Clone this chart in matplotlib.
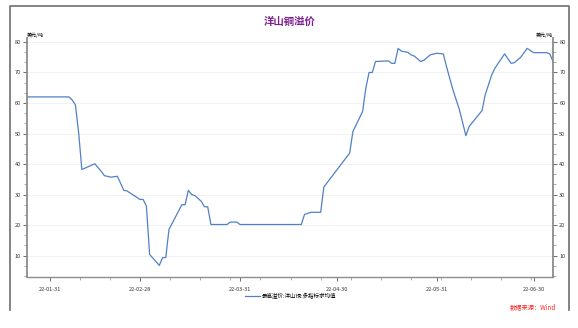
import numpy as np
import pandas as pd
import matplotlib
matplotlib.use('Agg')
import matplotlib.pyplot as plt
import matplotlib.dates as mdates
from matplotlib.ticker import MultipleLocator, AutoMinorLocator, FixedLocator
from matplotlib.lines import Line2D

plt.rcParams['font.family'] = ['Noto Sans CJK SC', 'DejaVu Sans']
plt.rcParams['axes.unicode_minus'] = False

# data (USD/t)
dates = ['2022-01-24', '2022-02-06', '2022-02-07', '2022-02-08', '2022-02-09', '2022-02-10',
         '2022-02-14', '2022-02-16', '2022-02-17', '2022-02-19', '2022-02-21', '2022-02-23',
         '2022-02-24', '2022-02-28', '2022-03-01', '2022-03-02', '2022-03-03', '2022-03-06',
         '2022-03-07', '2022-03-08', '2022-03-09', '2022-03-13', '2022-03-14', '2022-03-15',
         '2022-03-16', '2022-03-17', '2022-03-19', '2022-03-20', '2022-03-21', '2022-03-22',
         '2022-03-27', '2022-03-28', '2022-03-30', '2022-03-31', '2022-04-19', '2022-04-20',
         '2022-04-22', '2022-04-25', '2022-04-26', '2022-05-04', '2022-05-05', '2022-05-08',
         '2022-05-09', '2022-05-10', '2022-05-11', '2022-05-12', '2022-05-16', '2022-05-17',
         '2022-05-18', '2022-05-19', '2022-05-20', '2022-05-22', '2022-05-23', '2022-05-24',
         '2022-05-26', '2022-05-27', '2022-05-29', '2022-05-31', '2022-06-02', '2022-06-03',
         '2022-06-05', '2022-06-07', '2022-06-09', '2022-06-10', '2022-06-14', '2022-06-15',
         '2022-06-17', '2022-06-18', '2022-06-21', '2022-06-23', '2022-06-24', '2022-06-26',
         '2022-06-28', '2022-06-30', '2022-07-04', '2022-07-05', '2022-07-06']
premium = [62.0, 62.0, 61.0, 59.4, 50.3, 38.2,
           40.1, 37.6, 36.2, 35.7, 36.0, 31.4,
           31.2, 28.4, 28.4, 26.2, 10.4, 6.8,
           9.3, 9.4, 18.6, 26.7, 26.7, 31.4,
           30.0, 29.7, 27.8, 26.0, 26.0, 20.2,
           20.2, 21.0, 21.0, 20.2, 20.2, 23.5,
           24.2, 24.2, 32.5, 43.6, 50.7, 57.2,
           64.9, 70.0, 70.0, 73.6, 73.8, 73.0,
           73.0, 77.9, 77.0, 76.6, 75.8, 75.4,
           73.6, 74.0, 75.8, 76.3, 76.1, 71.9,
           64.3, 57.8, 49.3, 52.3, 57.5, 62.7,
           69.2, 71.4, 76.1, 73.0, 73.2, 75.0,
           77.9, 76.5, 76.5, 76.1, 73.6]
tick_dates = ['2022-01-31', '2022-02-28', '2022-03-31', '2022-04-30', '2022-05-31', '2022-06-30']
series_name = '最高溢价:洋山铜:多指标求均值'

x = pd.to_datetime(dates)
line_color = '#4f81c7'
axis_color = '#8c8c8c'

fig = plt.figure(figsize=(5.78, 3.28), dpi=100)
ax = fig.add_axes([27 / 578, 1 - 277 / 328, (553 - 27) / 578, (277 - 38) / 328])

ax.plot(x, premium, color=line_color, lw=0.9)
ax.set_xlim(x[0], x[-1])
ax.set_ylim(3, 81.3)

ax.xaxis.set_major_locator(FixedLocator(mdates.date2num(pd.to_datetime(tick_dates))))
ax.xaxis.set_major_formatter(mdates.DateFormatter('%y-%m-%d'))
ax.xaxis.set_minor_locator(AutoMinorLocator(3))
ax.yaxis.set_major_locator(MultipleLocator(10))
ax.yaxis.set_minor_locator(AutoMinorLocator(3))
ax.grid(axis='y', color='#efefef', lw=0.6)
ax.set_axisbelow(True)

ax.spines['top'].set_visible(False)
for s in ['left', 'right', 'bottom']:
    ax.spines[s].set_color(axis_color)
ax.spines['left'].set_linewidth(1.3)
ax.spines['right'].set_linewidth(1.3)
ax.spines['bottom'].set_linewidth(1.0)

ax.tick_params(axis='both', which='major', labelsize=4, colors='#333333', length=3, width=0.5,
               labelright=True, right=True, pad=1.5)
ax.tick_params(axis='both', which='minor', length=2, width=0.5, colors=axis_color, right=True)
ax.tick_params(axis='x', which='major', pad=4)

ax.text(0.0, 1.0, '美元/吨', transform=ax.transAxes, fontsize=3.6, ha='left', va='bottom')
ax.text(1.0, 1.0, '美元/吨', transform=ax.transAxes, fontsize=3.6, ha='right', va='bottom')

fig.text(290 / 578, 1 - 22 / 328, '洋山铜溢价', color='#7f1f8f', fontsize=7.5,
         fontweight='bold', ha='center', va='center')

handle = Line2D([], [], color=line_color, lw=0.9)
fig.legend([handle], [series_name], loc='center', bbox_to_anchor=(291 / 578, 1 - 296 / 328),
           frameon=False, fontsize=4, handlelength=2.6, handletextpad=0.4)

fig.text(556 / 578, 1 - 307 / 328, '数据来源：Wind', color='#ff2020', fontsize=4.5,
         style='italic', ha='right', va='center')

# outer frame (left, top, right)
frame_x = [10 / 578, 10 / 578, 569 / 578, 569 / 578]
frame_y = [1 - 310 / 328, 1 - 6 / 328, 1 - 6 / 328, 1 - 310 / 328]
fig.add_artist(Line2D(frame_x, frame_y, transform=fig.transFigure, color='#7a7a7a', lw=1.3))

fig.savefig('out.png', dpi=100)
